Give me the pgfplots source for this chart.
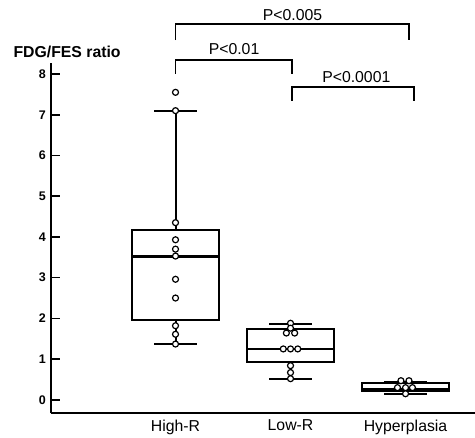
\documentclass[border=0pt]{standalone}
\usepackage{pgfplots}
\pgfplotsset{compat=1.18}
\usepgfplotslibrary{statistics}
\usepackage{fontspec}
\setmainfont{Liberation Sans}

\newcommand{\pfont}{\fontsize{15.8}{18}\selectfont}

\begin{document}
\begin{tikzpicture}
\begin{axis}[
    scale only axis,
    width=423.7pt, height=350.3pt,
    xmin=-1.08, xmax=2.604,
    ymin=-0.33, ymax=8.27,
    axis x line*=bottom, axis y line*=left,
    axis line style={-, line width=2pt},
    xtick={0,1,2},
    xticklabels={High-R, Low-R, Hyperplasia},
    x tick style={draw=none},
    xticklabel style={font=\pfont, yshift=-3pt},
    ytick={0,1,...,8},
    tick align=inside,
    major tick length=9pt,
    y tick style={line width=1.6pt, black},
    yticklabel style={font=\bfseries\fontsize{12.5}{14}\selectfont, xshift=-2pt},
    /pgf/number format/assume math mode=true,
    boxplot/draw direction=y,
    boxplot/every box/.style={draw=black, line width=2.1pt},
    boxplot/every whisker/.style={draw=black, line width=2pt},
    boxplot/every median/.style={draw=black, line width=2.1pt},
    clip=false,
]
% boxes
\addplot+[black, solid, line width=2pt, mark=none,
  boxplot prepared={draw position=0, lower whisker=1.37, lower quartile=1.95,
    median=3.52, upper quartile=4.17, upper whisker=7.10,
    box extend=0.75, whisker extend=0.37}] coordinates {};
\addplot+[black, solid, line width=2pt, mark=none,
  boxplot prepared={draw position=1, lower whisker=0.52, lower quartile=0.93,
    median=1.25, upper quartile=1.73, upper whisker=1.87,
    box extend=0.75, whisker extend=0.37}] coordinates {};
\addplot+[black, solid, line width=2pt, mark=none,
  boxplot prepared={draw position=2, lower whisker=0.15, lower quartile=0.23,
    median=0.27, upper quartile=0.41, upper whisker=0.43,
    box extend=0.75, whisker extend=0.37}] coordinates {};

% individual points
\addplot[only marks, mark=*, mark size=3pt, line width=1.2pt,
  mark options={draw=black, fill=white}] coordinates {
  (0,7.55) (0,7.10) (0,4.35) (0,3.93) (0,3.70) (0,3.53) (0,2.96) (0,2.50)
  (0,1.82) (0,1.61) (0,1.37)
  (1,1.88) (1,1.76) (0.964,1.64) (1.036,1.64)
  (0.937,1.25) (1,1.25) (1.063,1.25)
  (1,0.84) (1,0.67) (1,0.52)
  (1.96,0.47) (2.03,0.47)
  (1.93,0.30) (2,0.30) (2.06,0.30)
  (2,0.15)
};

% significance brackets
\addplot[black, line width=1.9pt, mark=none] coordinates {(0,8.83) (0,9.23) (2.03,9.23) (2.03,8.83)};
\addplot[black, line width=1.9pt, mark=none] coordinates {(0,8.0) (0,8.34) (1.01,8.34) (1.01,8.0)};
\addplot[black, line width=1.9pt, mark=none] coordinates {(1.01,7.34) (1.01,7.69) (2.077,7.69) (2.077,7.34)};
\node[font=\pfont, anchor=base, inner sep=0] at (axis cs:1.017,9.31) {P<0.005};
\node[font=\pfont, anchor=base, inner sep=0] at (axis cs:0.509,8.47) {P<0.01};
\node[font=\pfont, anchor=base, inner sep=0] at (axis cs:1.572,7.79) {P<0.0001};

\node[font=\bfseries\pfont, anchor=west, inner sep=0] at (axis cs:-1.41,8.55) {FDG/FES ratio};
\end{axis}
\pgfresetboundingbox
\path ([shift={(-51.3pt,63pt)}]current axis.north west) rectangle ([shift={(0pt,-24.7pt)}]current axis.south east);
\end{tikzpicture}
\end{document}
